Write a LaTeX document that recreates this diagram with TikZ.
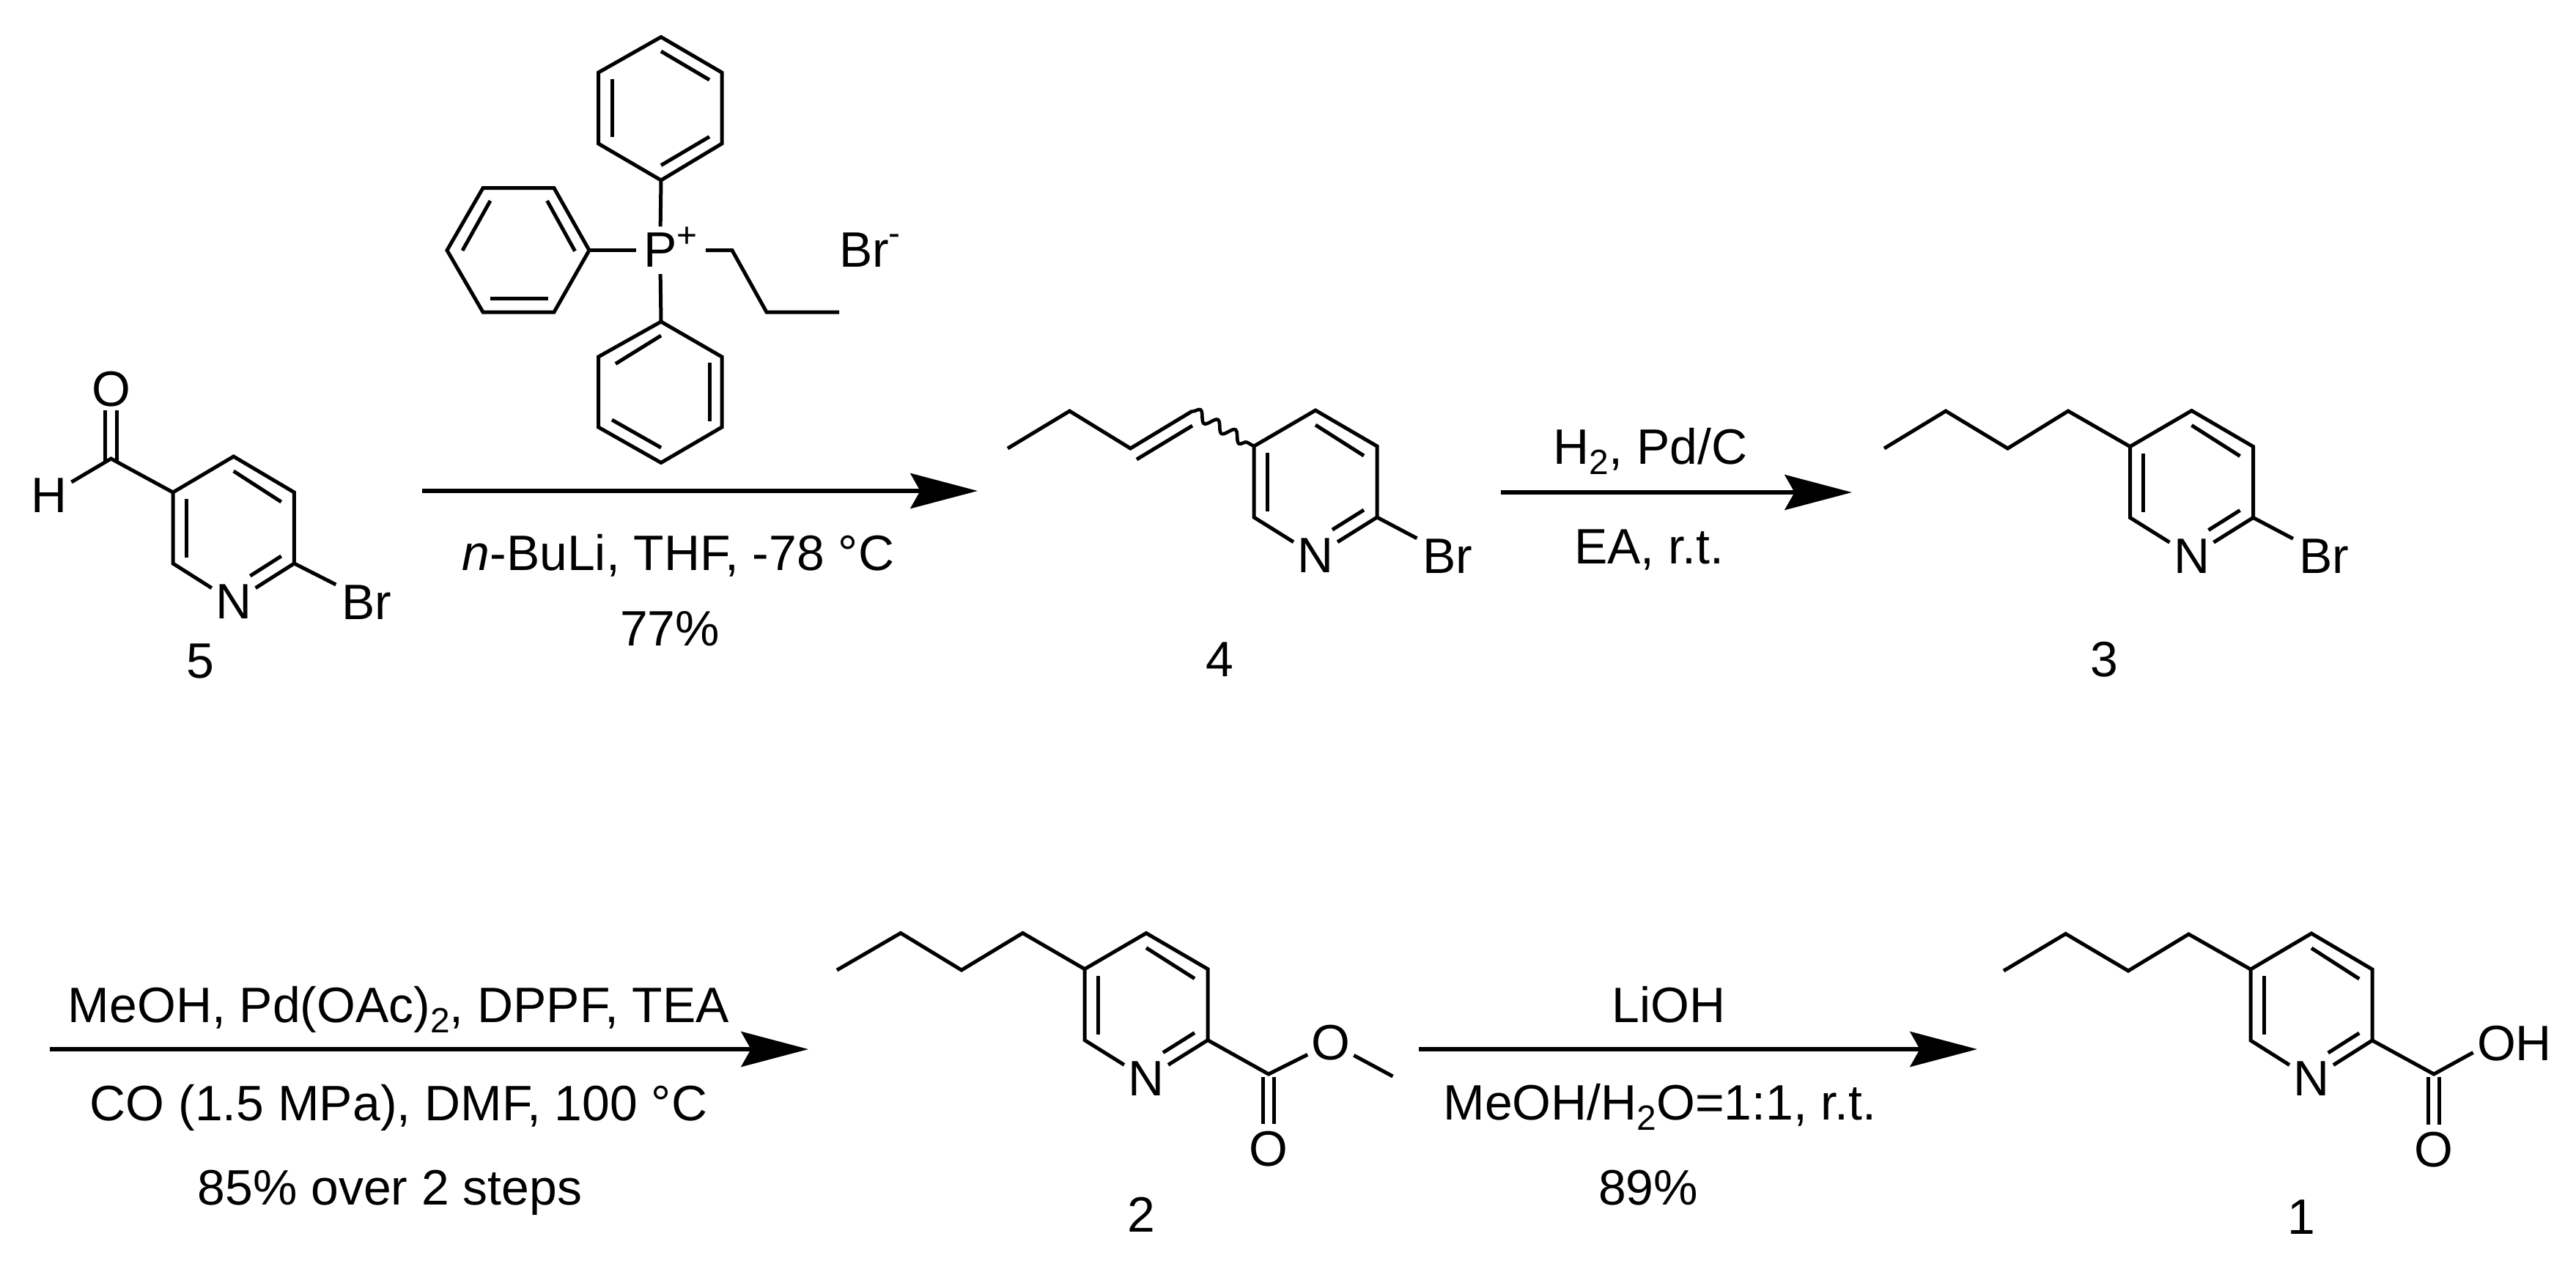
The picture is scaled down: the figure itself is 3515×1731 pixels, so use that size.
\documentclass[tikz,border=0pt]{standalone}
\usepackage{fontspec}
\setmainfont{Liberation Sans}
\usetikzlibrary{arrows.meta,decorations.pathmorphing}
\newcommand{\subtwo}{\raisebox{-3.4pt}{\fontsize{11.5}{13}\selectfont 2}}
\newcommand{\pyridine}[4]{%
  \coordinate (#1a) at (#2,#3);
  \coordinate (#1b) at (#2+84*#4,#3-49);
  \coordinate (#1c) at (#2+168*#4,#3);
  \coordinate (#1d) at (#2+168*#4,#3+97);
  \coordinate (#1e) at (#2,#3+97);
  \node[atom] (#1N) at (#2+84*#4,#3+149.5) {N};
  \draw[bond] (#1N) -- (#1e) -- (#1a) -- (#1b) -- (#1c) -- (#1d) -- (#1N);
  \draw[bond] (#2+18,#3+9) -- (#2+18,#3+89);
  \draw[bond] (#2+84*#4,#3-29) -- (#2+150*#4,#3+13);
  \draw[bond] (#2+107*#4,#3+114) -- (#2+150*#4,#3+87);
}
\newcommand{\bromide}[3]{%
  \node[txt,anchor=base] (#1Br) at (#2+264.5,#3+173) {Br};
  \draw[bond,shorten >=2.2pt] (#1d) -- (#1Br.150);
}
\tikzset{
  bond/.style={line width=1.2pt,line join=miter,miter limit=10},
  txt/.style={font=\fontsize{16.3}{19}\selectfont,inner sep=0pt,outer sep=0pt},
  atom/.style={txt,circle,minimum size=17pt},
  patom/.style={txt,circle,minimum size=14.4pt},
  rxnarrow/.style={line width=1.35pt,-{Stealth[length=22pt,width=11.5pt,inset=3.2pt]}},
}
\begin{document}
\begin{tikzpicture}[x=0.24pt,y=-0.24pt]
\useasboundingbox (0,0) rectangle (3515,1731);

% ---- compound 5
\pyridine{f}{236}{672}{0.985}
\bromide{f}{236}{672}
\node[atom] (fH) at (67,676) {H};
\node[atom] (fO) at (151.5,531) {O};
\coordinate (fC) at (151.5,626);
\draw[bond] (fH) -- (fC) -- (fa);
\coordinate (fO1) at (143.5,560);
\coordinate (fO2) at (159.5,560);
\draw[bond] (143.5,631) -- (fO1);
\draw[bond] (159.5,631) -- (fO2);
\node[txt,anchor=base] (lab5) at (273,925) {5};

% ---- phosphonium salt
\node[patom] (P) at (900.7,341.6) {P\rlap{\smash{\raisebox{6.5pt}{\fontsize{11.5}{13}\selectfont +}}}};
\draw[bond] (902,50.5) coordinate (pa1) -- (985,99) -- (985,196) -- (902,246) coordinate (pa4) -- (816.5,196) -- (816.5,99) -- cycle;
\draw[bond] (902,70) -- (968,109);
\draw[bond] (835,108) -- (835,186.6);
\draw[bond] (968,186.6) -- (902,225.6);
\draw[bond] (pa4) -- (P);
\draw[bond] (804,341.6) coordinate (pb1) -- (756,256.6) -- (659,256.6) -- (610,341.6) -- (659,426) -- (756,426) -- cycle;
\draw[bond] (669,274) -- (631,342);
\draw[bond] (746.6,274) -- (784.5,342.7);
\draw[bond] (669,407.6) -- (747.5,407.6);
\draw[bond] (pb1) -- (P);
\draw[bond] (902,439) coordinate (pc1) -- (985,487) -- (985,583) -- (902,631.5) -- (816.5,583) -- (816.5,487) -- cycle;
\draw[bond] (840,496.5) -- (902,458);
\draw[bond] (968,495) -- (968,575);
\draw[bond] (835,573) -- (902,611);
\draw[bond] (pc1) -- (P);
\coordinate (pd1) at (999,341.6);
\coordinate (pd2) at (1046,426);
\coordinate (pd3) at (1145,426);
\draw[bond,shorten <=7.2pt] (P.0) -- (pd1) -- (pd2) -- (pd3);
\node[txt,anchor=base west] (brm) at (1145,364) {Br\rlap{\smash{\raisebox{7.2pt}{\fontsize{11.5}{13}\selectfont -}}}};

% ---- arrow 1
\coordinate (a1s) at (576,670);
\coordinate (a1e) at (1334,670);
\draw[rxnarrow] (a1s) -- (a1e);
\node[txt,anchor=base] (t1a) at (925.5,778) {\textit{n}-BuLi, THF, -78 °C};
\node[txt,anchor=base] (t1b) at (914,881) {77\%};

% ---- compound 4
\pyridine{g}{1711}{609}{1}
\bromide{g}{1711}{609}
\coordinate (g1) at (1375,612);
\coordinate (g2) at (1459.5,561);
\coordinate (g3) at (1542.5,612);
\coordinate (g4) at (1627,561);
\draw[bond] (g1) -- (g2) -- (g3) -- (g4);
\draw[bond] (1551,627) -- (1627,581);
\draw[line width=1.1pt,decorate,decoration={snake,segment length=6.6pt,amplitude=1.7pt}] (g4) -- (ga);
\node[txt,anchor=base] (lab4) at (1664,923) {4};

% ---- arrow 2
\coordinate (a2s) at (2048,672);
\coordinate (a2e) at (2527,672);
\draw[rxnarrow] (a2s) -- (a2e);
\node[txt,anchor=base] (t2a) at (2252,633) {H\subtwo, Pd/C};
\node[txt,anchor=base] (t2b) at (2250,769) {EA, r.t.};

% ---- compound 3
\pyridine{h}{2906.5}{609.5}{1}
\bromide{h}{2906.5}{609.5}
\coordinate (h1) at (2571,612);
\coordinate (h2) at (2655,561);
\coordinate (h3) at (2739.5,612);
\coordinate (h4) at (2822,561);
\draw[bond] (h1) -- (h2) -- (h3) -- (h4) -- (ha);
\node[txt,anchor=base] (lab3) at (2871,923) {3};

% ---- arrow 3
\coordinate (a3s) at (68,1432);
\coordinate (a3e) at (1103,1432);
\draw[rxnarrow] (a3s) -- (a3e);
\node[txt,anchor=base] (t3a) at (544,1395) {MeOH, Pd(OAc)\subtwo, DPPF, TEA};
\node[txt,anchor=base] (t3b) at (544,1529) {CO (1.5 MPa), DMF, 100 °C};
\node[txt,anchor=base] (t3c) at (532,1644) {85\% over 2 steps};

% ---- compound 2
\pyridine{i}{1480}{1322.6}{1}
\coordinate (i1) at (1142,1324);
\coordinate (i2) at (1229,1273.5);
\coordinate (i3) at (1312,1324);
\coordinate (i4) at (1395.5,1273.5);
\draw[bond] (i1) -- (i2) -- (i3) -- (i4) -- (ia);
\coordinate (iC) at (1731,1466);
\node[atom] (iO1) at (1816,1423.5) {O};
\node[atom] (iO2) at (1731,1568) {O};
\coordinate (iMe) at (1900.5,1469);
\draw[bond] (id) -- (iC) -- (iO1);
\draw[bond] (iO1) -- (iMe);
\draw[bond] (1723.5,1470) -- (1723.5,1534);
\draw[bond] (1738.5,1470) -- (1738.5,1534);
\node[txt,anchor=base] (lab2) at (1557,1681) {2};

% ---- arrow 4
\coordinate (a4s) at (1936,1432);
\coordinate (a4e) at (2698,1432);
\draw[rxnarrow] (a4s) -- (a4e);
\node[txt,anchor=base] (t4a) at (2277,1395) {LiOH};
\node[txt,anchor=base] (t4b) at (2265,1528) {MeOH/H\subtwo O=1:1, r.t.};
\node[txt,anchor=base] (t4c) at (2249,1644) {89\%};

% ---- compound 1
\pyridine{j}{3071}{1323}{0.988}
\coordinate (j1) at (2734,1325);
\coordinate (j2) at (2818.6,1274.5);
\coordinate (j3) at (2904,1325);
\coordinate (j4) at (2986.5,1275);
\draw[bond] (j1) -- (j2) -- (j3) -- (j4) -- (ja);
\coordinate (jC) at (3321,1466);
\node[txt,anchor=base] (jOH) at (3431,1447) {OH};
\node[atom] (jO2) at (3321,1569) {O};
\draw[bond,shorten >=1.5pt] (jd) -- (jC) -- (jOH.191);
\draw[bond] (3313.5,1470) -- (3313.5,1535);
\draw[bond] (3328.5,1470) -- (3328.5,1535);
\node[txt,anchor=base] (lab1) at (3140,1684) {1};
\end{tikzpicture}
\end{document}
